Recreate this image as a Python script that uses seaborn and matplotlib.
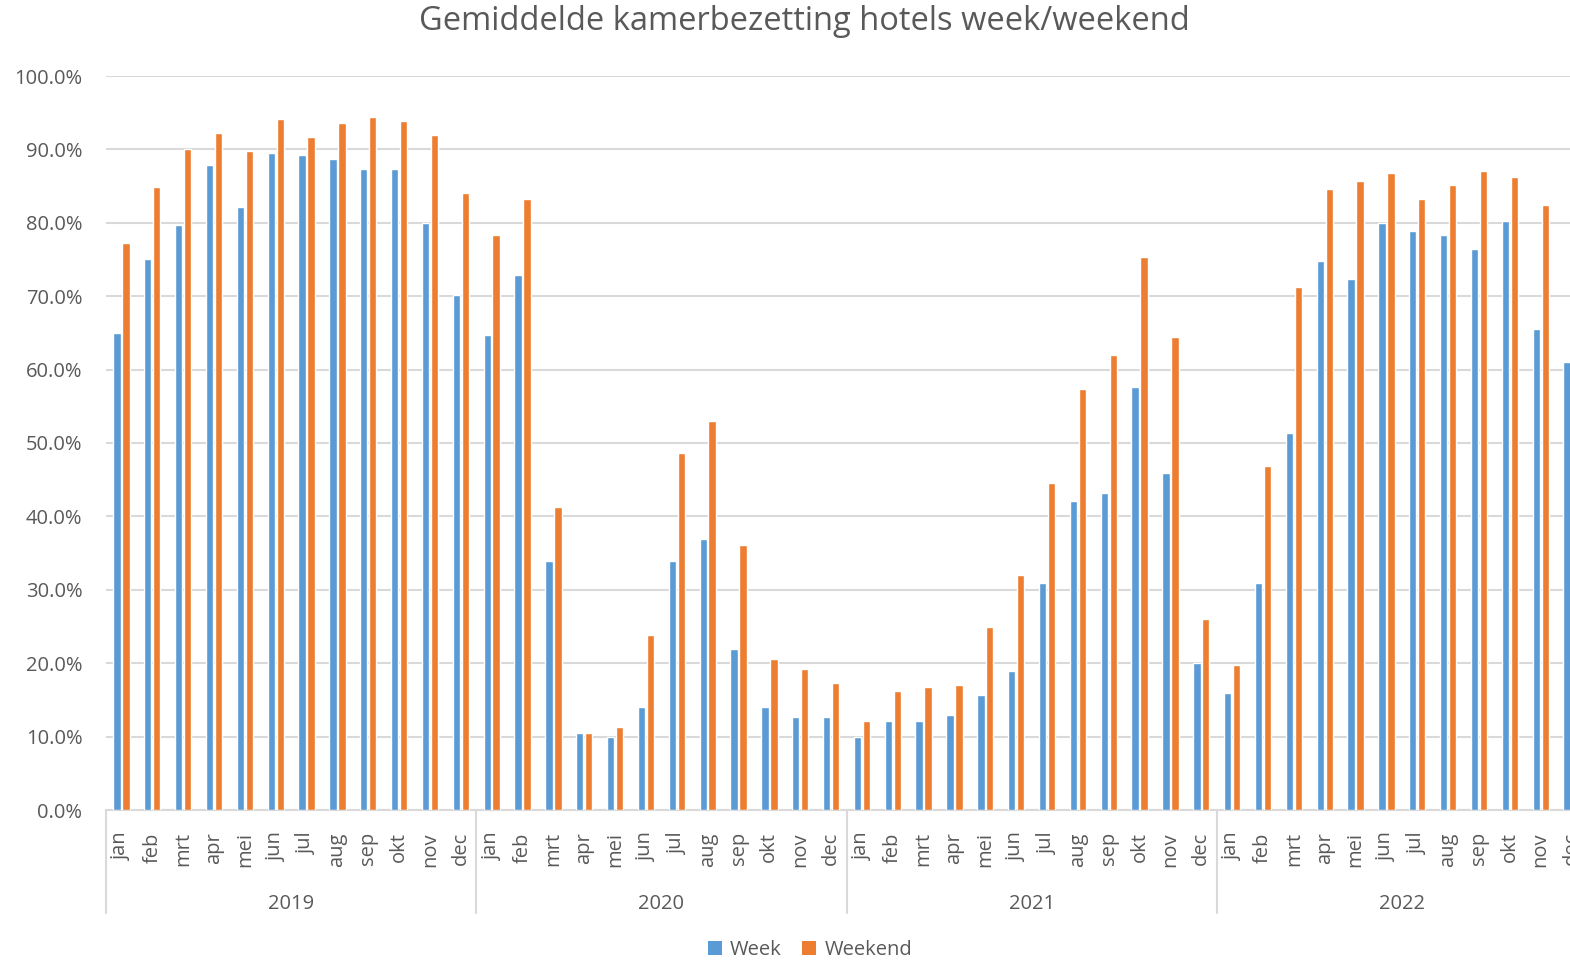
import numpy as np
import pandas as pd
import seaborn as sns
import matplotlib
matplotlib.use("Agg")
import matplotlib.pyplot as plt
from matplotlib.ticker import PercentFormatter, MultipleLocator
from matplotlib.patches import Patch
import matplotlib.transforms as mtransforms

# ---- data ----
years = ["2019", "2020", "2021", "2022"]
months = ["jan", "feb", "mrt", "apr", "mei", "jun", "jul", "aug", "sep", "okt", "nov", "dec"]

week_2019 = [65.0, 75.1, 79.7, 87.9, 82.2, 89.5, 89.2, 88.7, 87.3, 87.3, 80.0, 70.2]
weekend_2019 = [77.2, 84.9, 90.1, 92.2, 89.8, 94.1, 91.7, 93.6, 94.4, 93.9, 92.0, 84.1]
week_2020 = [64.7, 72.9, 33.9, 10.5, 9.9, 14.0, 33.9, 36.9, 21.9, 14.0, 12.7, 12.7]
weekend_2020 = [78.3, 83.2, 41.3, 10.5, 11.3, 23.8, 48.6, 53.0, 36.1, 20.6, 19.2, 17.3]
week_2021 = [10.0, 12.1, 12.1, 12.9, 15.7, 18.9, 30.9, 42.1, 43.2, 57.6, 45.9, 20.0]
weekend_2021 = [12.1, 16.2, 16.8, 17.0, 24.9, 32.0, 44.5, 57.4, 62.0, 75.3, 64.4, 26.0]
week_2022 = [15.9, 30.9, 51.3, 74.8, 72.3, 80.0, 78.9, 78.3, 76.4, 80.2, 65.5, 61.1]
weekend_2022 = [19.7, 46.9, 71.2, 84.6, 85.7, 86.8, 83.2, 85.1, 87.1, 86.2, 82.4, 78.0]

series_names = ["Week", "Weekend"]
colors = ["#5B9BD5", "#ED7D31"]

week_all = week_2019 + week_2020 + week_2021 + week_2022
weekend_all = weekend_2019 + weekend_2020 + weekend_2021 + weekend_2022
periods = [f"{m} {y}" for y in years for m in months]

df = pd.DataFrame({
    "periode": periods * 2,
    "bezetting": week_all + weekend_all,
    "type": [series_names[0]] * len(periods) + [series_names[1]] * len(periods),
})

# ---- plot ----
sns.set_theme(style="white")
plt.rcParams["font.family"] = ["Open Sans", "DejaVu Sans"]
text_color = "#595959"
grid_color = "#D9D9D9"

W, H = 1570, 961
fig = plt.figure(figsize=(W / 100, H / 100), dpi=100)
left_px, right_px, top_px, bottom_px = 106, 1587, 76, 810
ax = fig.add_axes([left_px / W, (H - bottom_px) / H,
                   (right_px - left_px) / W, (bottom_px - top_px) / H])

sns.barplot(data=df, x="periode", y="bezetting", hue="type", order=periods,
            hue_order=series_names, palette=colors, saturation=1,
            width=0.58, gap=0.18, ax=ax, legend=False, zorder=3)

ax.set_xlim(-0.5, len(periods) - 0.5)
ax.set_ylim(0, 100)
ax.yaxis.set_major_locator(MultipleLocator(10))
ax.yaxis.set_major_formatter(PercentFormatter(xmax=100, decimals=1))
ax.grid(axis="y", color=grid_color, linewidth=1.5, zorder=0)
ax.set_axisbelow(True)
ax.set_xlabel("")
ax.set_ylabel("")

ax.set_xticks(range(len(periods)))
ax.set_xticklabels(months * len(years), rotation=90)
ax.tick_params(axis="x", length=0, pad=16, labelsize=14.5, labelcolor=text_color)
ax.tick_params(axis="y", length=0, pad=17, labelsize=14.5, labelcolor=text_color)
for lab in ax.get_xticklabels():
    lab.set_va("top")

for s in ["top", "right", "left"]:
    ax.spines[s].set_visible(False)
ax.spines["bottom"].set_color(grid_color)
ax.spines["bottom"].set_linewidth(1.5)

# year group labels and separators
trans = mtransforms.blended_transform_factory(ax.transData, ax.transAxes)
n = len(months)
for i, y in enumerate(years):
    ax.text(i * n + (n - 1) / 2, -0.1275, y, transform=trans, ha="center",
            va="center", fontsize=14.5, color=text_color)
for i in range(len(years) + 1):
    xb = i * n - 0.5
    ax.plot([xb, xb], [0, -0.141], transform=trans, color=grid_color,
            linewidth=1.5, clip_on=False)

# title
fig.text(804 / W, 1 - 22 / H, "Gemiddelde kamerbezetting hotels week/weekend",
         ha="center", va="center", fontsize=23.5, color=text_color)

# legend
handles = [Patch(facecolor=c, edgecolor="none") for c in colors]
fig.legend(handles, series_names, loc="center", bbox_to_anchor=(810 / W, 11 / H),
           ncol=2, frameon=False, fontsize=14.5, labelcolor=text_color,
           handlelength=0.7, handleheight=0.7, handletextpad=0.4, columnspacing=1.0)

fig.savefig("out.png", dpi=100)
